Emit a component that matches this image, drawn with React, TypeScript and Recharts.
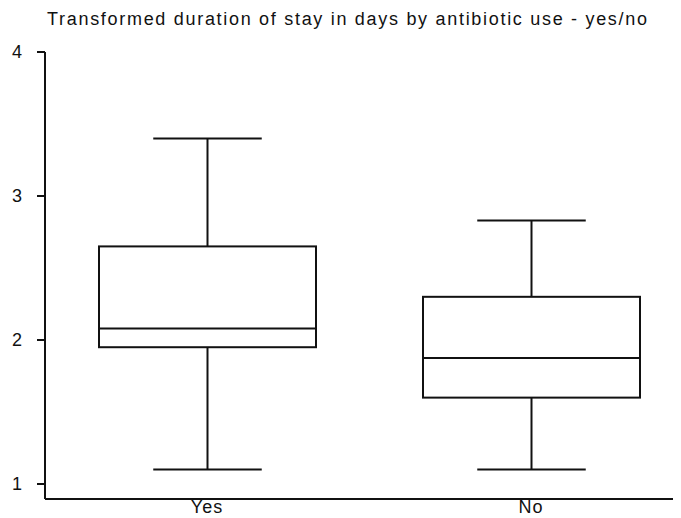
import React from "react";
import { BarChart, Bar, XAxis, YAxis } from "recharts";

const categories = ["Yes", "No"];
const whiskerLow = [1.1, 1.1];
const quartile1 = [1.95, 1.6];
const medians = [2.08, 1.875];
const quartile3 = [2.65, 2.3];
const whiskerHigh = [3.4, 2.83];
const yTicks = [1, 2, 3, 4];
const yDomain = [0.896, 4];
const chartTitle = "Transformed duration of stay in days by antibiotic use - yes/no";

const data = categories.map((name, i) => ({
  name,
  range: [whiskerLow[i], whiskerHigh[i]],
  lo: whiskerLow[i],
  q1: quartile1[i],
  med: medians[i],
  q3: quartile3[i],
  hi: whiskerHigh[i],
}));

const INK = "#111";
const FONT = "'Liberation Sans', Arial, sans-serif";

function BoxShape(props: any) {
  const { x, y, width, height } = props;
  const p = props.payload || props;
  const { lo, q1, med, q3, hi } = p;
  const py = (v: number) => y + ((hi - v) / (hi - lo)) * height;
  const cx = x + width / 2;
  const capHalf = width / 4;
  return (
    <g stroke={INK} strokeWidth={2} fill="none">
      <line x1={cx - capHalf} x2={cx + capHalf} y1={py(hi)} y2={py(hi)} />
      <line x1={cx} x2={cx} y1={py(hi)} y2={py(q3)} />
      <rect x={x} y={py(q3)} width={width} height={py(q1) - py(q3)} fill="#fff" />
      <line x1={x} x2={x + width} y1={py(med)} y2={py(med)} />
      <line x1={cx} x2={cx} y1={py(q1)} y2={py(lo)} />
      <line x1={cx - capHalf} x2={cx + capHalf} y1={py(lo)} y2={py(lo)} />
    </g>
  );
}

function XTick(props: any) {
  const { x, y, payload } = props;
  return (
    <text x={x} y={y} dy={14} textAnchor="middle" fill={INK} fontSize={18} fontFamily={FONT} letterSpacing={1}>
      {payload.value}
    </text>
  );
}

export default function App() {
  return (
    <div style={{ position: "relative", width: 673, height: 510, overflow: "hidden", background: "#fff" }}>
      <BarChart
        width={685}
        height={510}
        data={data}
        margin={{ top: 44, right: 0, bottom: 0, left: 0 }}
        barSize={217}
      >
        <XAxis
          dataKey="name"
          height={19}
          axisLine={{ stroke: INK, strokeWidth: 2 }}
          tickLine={false}
          tickSize={0}
          tickMargin={0}
          tick={<XTick />}
          interval={0}
        />
        <YAxis
          type="number"
          domain={yDomain}
          ticks={yTicks}
          allowDataOverflow
          width={37}
          axisLine={{ stroke: INK, strokeWidth: 2 }}
          tickLine={{ stroke: INK, strokeWidth: 2 }}
          tickSize={8}
          tickMargin={15}
          tick={{ fill: INK, fontSize: 18, fontFamily: FONT }}
        />
        <Bar dataKey="range" shape={<BoxShape />} isAnimationActive={false} />
      </BarChart>
      <svg
        width={673}
        height={30}
        style={{ position: "absolute", left: 0, top: 0 }}
      >
        <text x={39} y={17} fill={INK} fontSize={18} fontFamily={FONT} textLength={600} lengthAdjust="spacing">
          {chartTitle}
        </text>
      </svg>
    </div>
  );
}
